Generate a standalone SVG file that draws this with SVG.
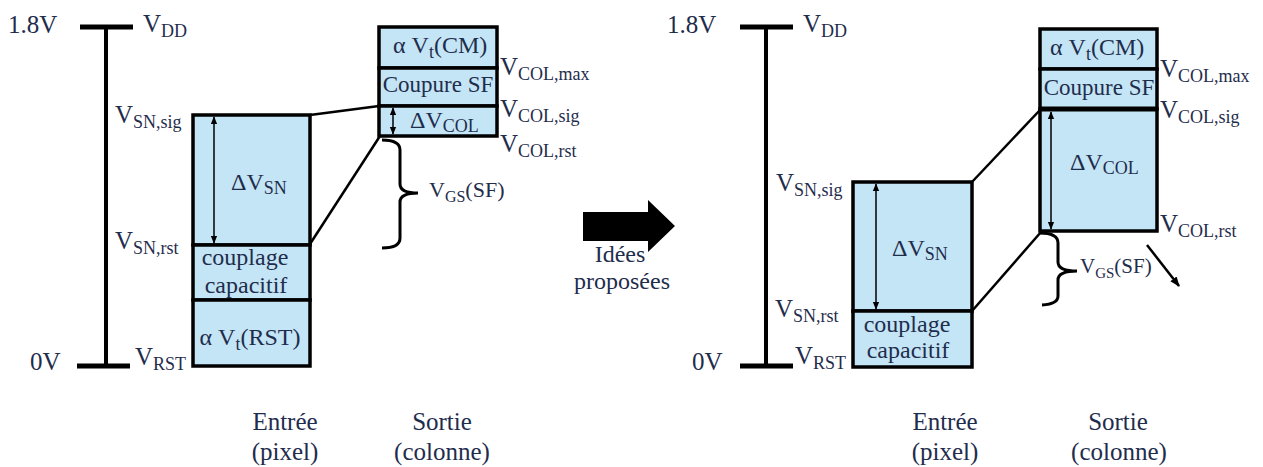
<svg xmlns="http://www.w3.org/2000/svg" width="1263" height="467" viewBox="0 0 1263 467">
<defs>
<style>
.t{font-family:"Liberation Serif","Times New Roman",serif;fill:#1f2d4d;font-size:25px}
.b{font-size:24px}
.s{font-size:18px}
.g{font-size:22px}
.gs{font-size:16px}
.box{fill:#c4e5f5;stroke:#000;stroke-width:3.5}
.rail{stroke:#000;stroke-width:4;fill:none}
.tick{stroke:#000;stroke-width:5}
.ln{stroke:#000;stroke-width:2.5;fill:none}
.dim{stroke:#000;stroke-width:1.5;fill:none;marker-start:url(#ah);marker-end:url(#ah)}
.brace{stroke:#000;stroke-width:3;fill:none}
</style>
<marker id="ah" viewBox="0 0 10 10" refX="9" refY="5" markerWidth="8" markerHeight="8" markerUnits="userSpaceOnUse" orient="auto-start-reverse">
<path d="M0,1 L10,5 L0,9 Z" fill="#000"/>
</marker>
<marker id="ah2" viewBox="0 0 10 10" refX="9" refY="5" markerWidth="10" markerHeight="10" markerUnits="userSpaceOnUse" orient="auto">
<path d="M0,1 L10,5 L0,9 Z" fill="#000"/>
</marker>
</defs>
<rect width="1263" height="467" fill="#fff"/>

<!-- LEFT PANEL -->
<g id="left-rail">
<line class="rail" x1="106" y1="27" x2="106" y2="366"/>
<line class="tick" x1="80" y1="27" x2="133" y2="27"/>
<line class="tick" x1="77" y1="366" x2="130" y2="366"/>
<text class="t" x="8" y="33">1.8V</text>
<text class="t" x="143" y="32">V<tspan class="s" dy="5">DD</tspan></text>
<text class="t" x="30" y="370">0V</text>
<text class="t" x="135" y="365">V<tspan class="s" dy="5">RST</tspan></text>
<text class="t" x="115" y="123">V<tspan class="s" dy="5">SN,sig</tspan></text>
<text class="t" x="115" y="249">V<tspan class="s" dy="5">SN,rst</tspan></text>
</g>

<g id="left-sn">
<rect class="box" x="193" y="115" width="117" height="130"/>
<rect class="box" x="193" y="245" width="117" height="55"/>
<rect class="box" x="193" y="300" width="117" height="66"/>
<line class="dim" x1="214" y1="117" x2="214" y2="243"/>
<text class="t b" x="231" y="190">ΔV<tspan class="s" dy="4">SN</tspan></text>
<text class="t b" x="245" y="265" text-anchor="middle">couplage</text>
<text class="t b" x="246" y="293" text-anchor="middle">capacitif</text>
<text class="t b" x="250" y="345" text-anchor="middle">α V<tspan class="s" dy="5">t</tspan><tspan dy="-5">(RST)</tspan></text>
</g>

<g id="left-col">
<rect class="box" x="379" y="27" width="118" height="41"/>
<rect class="box" x="379" y="68" width="118" height="38"/>
<rect class="box" x="379" y="106" width="118" height="30"/>
<line class="dim" x1="393" y1="108" x2="393" y2="134"/>
<text class="t b" x="393" y="53">α V<tspan class="s" dy="5">t</tspan><tspan dy="-5">(CM)</tspan></text>
<text class="t" style="font-size:23px" x="438" y="92" text-anchor="middle">Coupure SF</text>
<text class="t b" x="410" y="128">ΔV<tspan class="s" dy="4">COL</tspan></text>
<text class="t" x="500" y="75">V<tspan class="s" dy="5">COL,max</tspan></text>
<text class="t" x="500" y="117">V<tspan class="s" dy="5">COL,sig</tspan></text>
<text class="t" x="500" y="152">V<tspan class="s" dy="5">COL,rst</tspan></text>
<path class="brace" d="M382,140 Q400,140 400,150 L400,184 Q400,193 418,193 Q400,193 400,202 L400,238 Q400,248 382,248"/>
<text class="t g" x="429" y="197">V<tspan class="gs" dy="5">GS</tspan><tspan dy="-5">(SF)</tspan></text>
</g>

<!-- MIDDLE ARROW -->
<g id="transition">
<polygon points="583,212 648,212 648,200 675,226 648,252 648,241 583,241" fill="#000"/>
<text class="t" style="font-size:24px" x="620" y="262" text-anchor="middle">Idées</text>
<text class="t" style="font-size:24px" x="622" y="289" text-anchor="middle">proposées</text>
</g>

<!-- RIGHT PANEL -->
<g id="right-rail">
<line class="rail" x1="766" y1="27" x2="766" y2="366"/>
<line class="tick" x1="740" y1="27" x2="793" y2="27"/>
<line class="tick" x1="740" y1="366" x2="793" y2="366"/>
<text class="t" x="667" y="33">1.8V</text>
<text class="t" x="803" y="32">V<tspan class="s" dy="5">DD</tspan></text>
<text class="t" x="692" y="370">0V</text>
<text class="t" x="795" y="364">V<tspan class="s" dy="5">RST</tspan></text>
<text class="t" x="776" y="191">V<tspan class="s" dy="5">SN,sig</tspan></text>
<text class="t" x="775" y="317">V<tspan class="s" dy="5">SN,rst</tspan></text>
</g>

<g id="right-sn">
<rect class="box" x="853" y="182" width="119" height="129"/>
<rect class="box" x="853" y="311" width="119" height="56"/>
<line class="dim" x1="876" y1="184" x2="876" y2="309"/>
<text class="t b" x="892" y="256">ΔV<tspan class="s" dy="4">SN</tspan></text>
<text class="t b" x="907" y="332" text-anchor="middle">couplage</text>
<text class="t b" x="908" y="358" text-anchor="middle">capacitif</text>
</g>

<g id="right-col">
<rect class="box" x="1040" y="29" width="117" height="40"/>
<rect class="box" x="1040" y="69" width="117" height="40"/>
<rect class="box" x="1040" y="109" width="117" height="122"/>
<line x1="1040" y1="109" x2="1157" y2="109" stroke="#000" stroke-width="5"/>
<line class="dim" x1="1051" y1="112" x2="1051" y2="229"/>
<text class="t b" x="1050" y="55">α V<tspan class="s" dy="5">t</tspan><tspan dy="-5">(CM)</tspan></text>
<text class="t" style="font-size:23px" x="1099" y="95" text-anchor="middle">Coupure SF</text>
<text class="t b" x="1070" y="170">ΔV<tspan class="s" dy="4">COL</tspan></text>
<text class="t" x="1160" y="77">V<tspan class="s" dy="5">COL,max</tspan></text>
<text class="t" x="1160" y="118">V<tspan class="s" dy="5">COL,sig</tspan></text>
<text class="t" x="1160" y="232">V<tspan class="s" dy="5">COL,rst</tspan></text>
<path class="brace" d="M1040,233 Q1058,233 1058,243 L1058,262 Q1058,271 1077,271 Q1058,271 1058,280 L1058,296 Q1058,304 1042,305"/>
<text class="t" style="font-size:21px" x="1080" y="273">V<tspan style="font-size:15px" dy="5">GS</tspan><tspan dy="-5">(SF)</tspan></text>
</g>

<g id="connectors">
<line class="ln" x1="310" y1="115" x2="379" y2="106"/>
<line class="ln" x1="310" y1="244" x2="380" y2="136"/>
<line class="ln" x1="972" y1="182" x2="1040" y2="110"/>
<line class="ln" x1="972" y1="311" x2="1041" y2="232"/>
<line class="ln" x1="1147" y1="245" x2="1179" y2="286" marker-end="url(#ah2)"/>
</g>

<g id="captions">
<text class="t" x="285" y="430" text-anchor="middle">Entrée</text>
<text class="t" x="285" y="460" text-anchor="middle">(pixel)</text>
<text class="t" x="442" y="430" text-anchor="middle">Sortie</text>
<text class="t" x="442" y="460" text-anchor="middle">(colonne)</text>
<text class="t" x="945" y="430" text-anchor="middle">Entrée</text>
<text class="t" x="945" y="460" text-anchor="middle">(pixel)</text>
<text class="t" x="1118" y="430" text-anchor="middle">Sortie</text>
<text class="t" x="1119" y="460" text-anchor="middle">(colonne)</text>
</g>
</svg>
